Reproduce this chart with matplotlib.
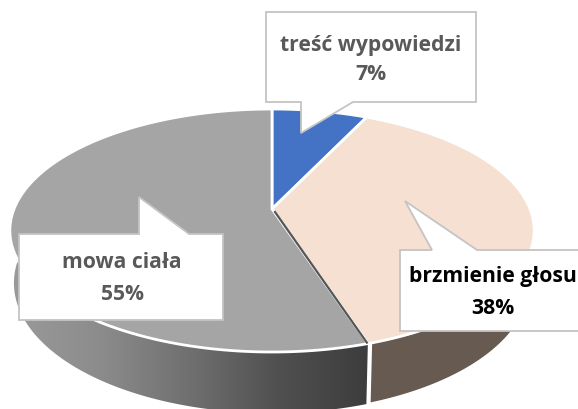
import numpy as np
import matplotlib
matplotlib.use('Agg')
import matplotlib.pyplot as plt
from matplotlib.colors import LinearSegmentedColormap
from matplotlib.patches import Polygon

labels = ['treść wypowiedzi', 'brzmienie głosu', 'mowa ciała']
values = [7, 38, 55]
face_colors = ['#4472c4', '#f5e0d2', '#a5a5a5']
text_colors = ['#595959', '#000000', '#595959']

plt.rcParams['font.family'] = ['Open Sans', 'DejaVu Sans']


# perspektywa: okrag -> elipsa, srodek kola nie jest w srodku elipsy
def persp(theta, cy, h, r, k=0.177):
    u = np.sin(theta)
    v = np.cos(theta)
    w = 1 + k * v
    return np.column_stack((272 + r * u / w, cy - h * v / w))


def top(theta):
    return persp(theta, 210, 117.7, 258)


def bottom(theta):
    return persp(theta, 261, 126, 254)


def side(t0, t1):
    t = np.linspace(t0, t1, 150)
    return np.vstack((top(t), bottom(t[::-1])))


fig = plt.figure(figsize=(5.78, 4.10), dpi=100)
ax = fig.add_axes([0, 0, 1, 1])
ax.set_xlim(0, 578)
ax.set_ylim(410, 0)
ax.axis('off')

edges = np.radians(np.cumsum([0] + values) * 3.6)

# bok kola - szary z gradientem, brazowy bez
grey_side = Polygon(side(edges[2], edges[2] + np.pi * 0.75), closed=True, fc='none', ec='none')
ax.add_patch(grey_side)
cmap = LinearSegmentedColormap.from_list('side', ['#9a9a9a', '#8c8c8c', '#707070', '#505050', '#3d3d3d'])
im = ax.imshow(np.linspace(0, 1, 256).reshape(1, -1), cmap=cmap, extent=(10, 368, 410, 200), aspect='auto', zorder=1)
im.set_clip_path(grey_side)
ax.set_xlim(0, 578)
ax.set_ylim(410, 0)
ax.add_patch(Polygon(side(edges[1] + np.pi * 0.3, edges[2] - 0.012), closed=True, fc='#675a50', ec='white', lw=1.2, zorder=2))

# gorne plaszczyzny
for i in range(3):
    t = np.linspace(edges[i], edges[i + 1], 150)
    pts = np.vstack(([[272, 210]], top(t)))
    ax.add_patch(Polygon(pts, closed=True, fc=face_colors[i], ec='white', lw=2, zorder=3))

# ciemna scianka przy cieciu szary / brazowy
cut = top(np.array([edges[2]]))[0]
ax.plot([275, cut[0] - 1], [213, cut[1] - 1], color='#555555', lw=1.6, zorder=4)

# dymki z etykietami
boxes = [(266, 476, 13, 103, 301, 353, 301, 134),
         (400, 590, 251, 332, 432, 477, 405, 202),
         (19, 223, 235, 321, 139, 189, 139, 198)]
text_pos = [(371, 45, 75), (493, 277, 309), (122, 263, 295)]
for i in range(3):
    x0, x1, y0, y1, b0, b1, tx, ty = boxes[i]
    if ty < y0:
        pts = [(x0, y0), (b0, y0), (tx, ty), (b1, y0), (x1, y0), (x1, y1), (x0, y1)]
    else:
        pts = [(x0, y0), (x1, y0), (x1, y1), (b1, y1), (tx, ty), (b0, y1), (x0, y1)]
    ax.add_patch(Polygon(pts, closed=True, fc='white', ec='#c4c4c4', lw=1.3, zorder=5))
    xt, y_a, y_b = text_pos[i]
    ax.text(xt, y_a, labels[i], ha='center', va='center', color=text_colors[i], fontsize=15.2, fontweight='bold', zorder=6)
    ax.text(xt, y_b, '%d%%' % values[i], ha='center', va='center', color=text_colors[i], fontsize=15.2, fontweight='bold', zorder=6)

fig.savefig('out.png', dpi=100)
